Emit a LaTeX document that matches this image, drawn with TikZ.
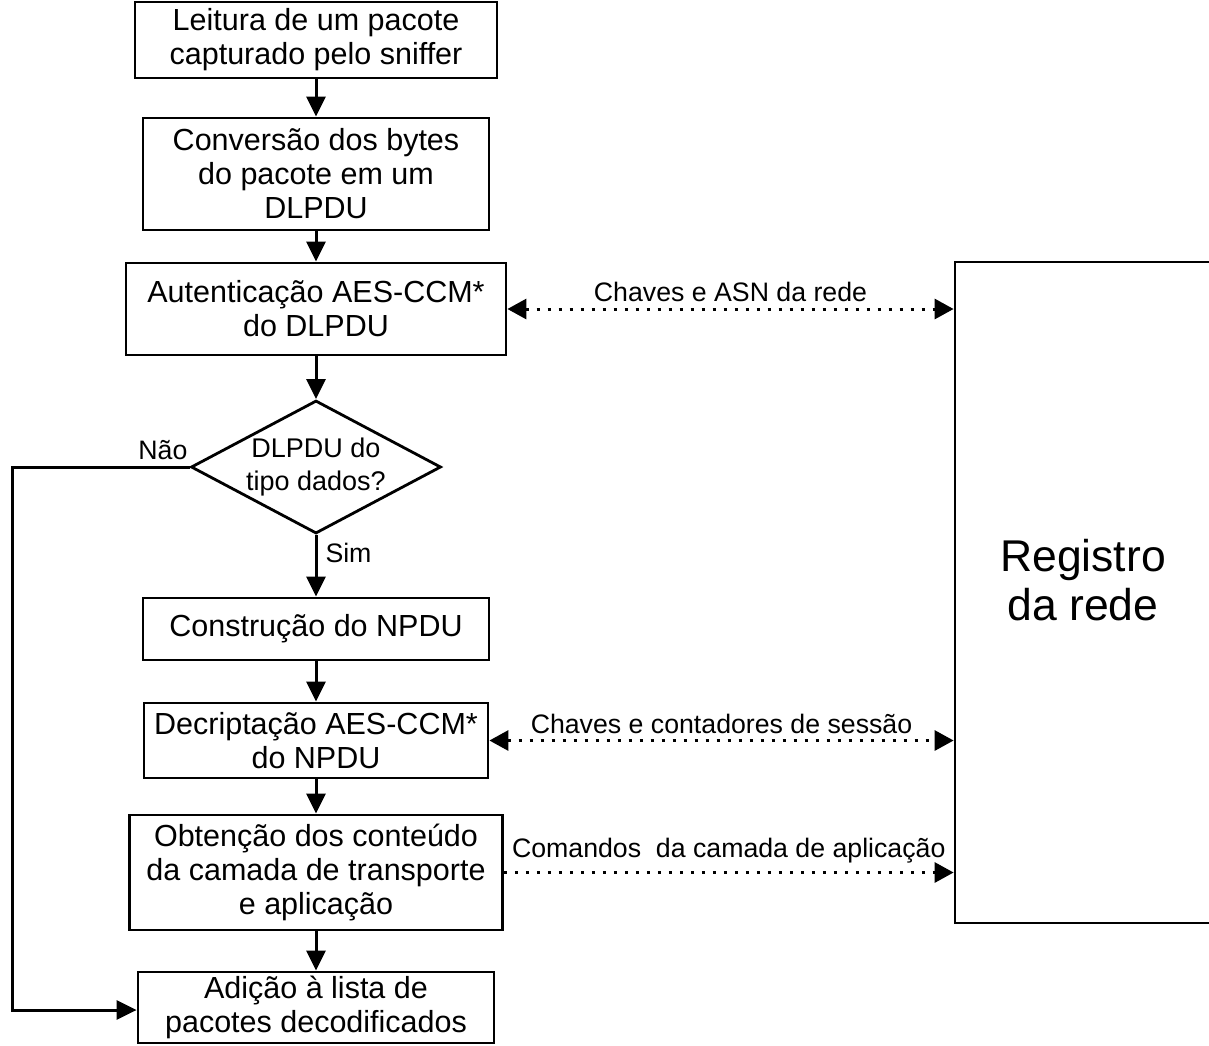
\documentclass[tikz,border=0pt]{standalone}
\usepackage{fontspec}
\setmainfont{Liberation Sans}
\usetikzlibrary{shapes.geometric,arrows.meta}
\tikzset{mytip/.tip={Triangle[length=19pt,width=20pt]}}
\begin{document}
\begin{tikzpicture}[x=1pt,y=-1pt,
  box/.style={draw, line width=2.8pt, align=center, inner sep=0pt, font=\fontsize{30.5}{34}\selectfont},
  flow/.style={line width=3pt, -{Triangle[length=20pt,width=19pt]}},
  dotline/.style={line width=3pt, dash pattern=on 3pt off 8pt},
  lbl/.style={font=\fontsize{26.7}{30}\selectfont, inner sep=4pt}]
\useasboundingbox (0,0) rectangle (1209,1045);
\clip (0,0) rectangle (1209,1045);
\fill[white] (0,0) rectangle (1209,1045);

\node[box, minimum width=362, minimum height=76] (b1) at (316,40) {Leitura de um pacote\\capturado pelo sniffer};
\node[box, minimum width=346, minimum height=112] (b2) at (316,174) {Conversão dos bytes\\do pacote em um\\DLPDU};
\node[box, minimum width=380, minimum height=92] (b3) at (316,309) {Autenticação AES-CCM*\\do DLPDU};
\node[draw, line width=2.8pt, shape=diamond, inner sep=0pt, minimum width=250, minimum height=133] (d) at (316,467) {};
\node[align=center, font=\fontsize{27}{33}\selectfont] (dt) at (d.center) {DLPDU do\\tipo dados?};
\node[box, minimum width=346, minimum height=62] (b4) at (316,629) {Construção do NPDU};
\node[box, minimum width=344, minimum height=75] (b5) at (316,740.5) {Decriptação AES-CCM*\\do NPDU};
\node[box, minimum width=373, minimum height=115] (b6) at (316,872.5) {Obtenção dos conteúdo\\da camada de transporte\\e aplicação};
\node[box, minimum width=356, minimum height=71] (b7) at (316,1007.5) {Adição à lista de\\pacotes decodificados};

\node[draw, line width=2.8pt, inner sep=0pt, minimum width=256, minimum height=661] (reg) at (1083,592.5) {};
\node[align=center, font=\fontsize{44.5}{49}\selectfont] (regt) at ([yshift=12pt]reg.center) {Registro\\da rede};

\draw[flow] (b1.south) -- (b2.north);
\draw[flow] (b2.south) -- (b3.north);
\draw[flow] (b3.south) -- (d.north);
\draw[flow] (d.south) -- node[lbl, pos=0.3, right=4pt] (sim) {Sim} (b4.north);
\draw[flow] (b4.south) -- (b5.north);
\draw[flow] (b5.south) -- (b6.north);
\draw[flow] (b6.south) -- (b7.north);

\coordinate (c1) at (12,467);
\coordinate (c2) at (12,1010);
\draw[flow] (d.west) -- (c1) -- (c2) -- (c2 -| b7.west);
\node[lbl, anchor=south east, inner sep=2pt] (nao) at ([yshift=5pt]d.west) {Não};

\draw[dotline, mytip-mytip] (b3.east) -- node[lbl, above=2pt] (l1) {Chaves e ASN da rede} (b3.east -| reg.west);
\draw[dotline, mytip-mytip] (b5.east) -- node[lbl, above=1pt] (l2) {Chaves e contadores de sessão} (b5.east -| reg.west);
\draw[dotline, -mytip] (b6.east) -- node[lbl, above=4pt] (l3) {Comandos\ \ da camada de aplicação} (b6.east -| reg.west);
\end{tikzpicture}
\end{document}
